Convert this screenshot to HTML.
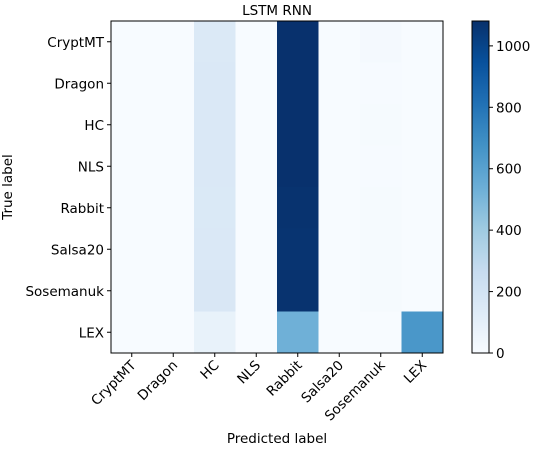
<!DOCTYPE html>
<html><head><meta charset="utf-8"><style>body{margin:0;background:#fff}svg text{font-family:"DejaVu Sans","Liberation Sans",sans-serif;font-size:13.5px;fill:#000}</style></head>
<body>
<svg id="c" width="533" height="446" xmlns="http://www.w3.org/2000/svg"></svg>
<script>
const labels=["CryptMT","Dragon","HC","NLS","Rabbit","Salsa20","Sosemanuk","LEX"];
const row0=[0,0,150,0,1075,0,15,0];
const row1=[0,0,160,0,1075,0,5,0];
const row2=[0,0,160,0,1075,0,10,0];
const row3=[0,0,160,0,1075,0,5,0];
const row4=[0,0,155,0,1070,0,10,0];
const row5=[0,0,160,0,1065,0,10,0];
const row6=[0,0,165,0,1070,0,10,0];
const row7=[0,0,80,0,530,0,0,650];
const cbTicks=[0,200,400,600,800,1000];
const vmax=1081;
const rows=[row0,row1,row2,row3,row4,row5,row6,row7];
const NS="http://www.w3.org/2000/svg",svg=document.getElementById('c');
function mk(t,a,p){const e=document.createElementNS(NS,t);for(const k in a)e.setAttribute(k,a[k]);(p||svg).appendChild(e);return e;}
const stops=["#f7fbff","#deebf7","#c6dbef","#9ecae1","#6baed6","#4292c6","#2171b5","#08519c","#08306b"].map(h=>[1,3,5].map(i=>parseInt(h.substr(i,2),16)));
function blues(v){let t=Math.max(0,Math.min(1,v/vmax))*8;let i=Math.min(7,Math.floor(t)),f=t-i;const c=stops[i].map((a,k)=>Math.round(a+(stops[i+1][k]-a)*f));return `rgb(${c})`;}
const X0=111,Y0=21,W=332,H=332,n=labels.length,cw=W/n,ch=H/n;
const xs=j=>X0+j*cw, ys=i=>Y0+i*ch;
mk('text',{x:X0+W/2,y:15,'text-anchor':'middle','font-size':'16',}).textContent="LSTM RNN";
rows.forEach((r,i)=>r.forEach((v,j)=>{const e=mk('rect',{x:xs(j),y:ys(i),width:cw+0.5,height:ch+0.5,fill:blues(v)});

}));
mk('rect',{x:X0,y:Y0,width:W,height:H,fill:'none',stroke:'#000','stroke-width':1,});
labels.forEach((l,i)=>{const y=ys(i)+ch/2;mk('line',{x1:X0-4,x2:X0,y1:y,y2:y,stroke:'#000'});
const t=mk('text',{x:X0-7,y:y+5,'text-anchor':'end'});t.textContent=l;


const x=xs(i)+cw/2;mk('line',{x1:x,x2:x,y1:Y0+H,y2:Y0+H+4,stroke:'#000'});
const u=mk('text',{x:x+5,y:Y0+H+13,'text-anchor':'end',transform:`rotate(-45 ${x+5} ${Y0+H+13})`});u.textContent=l;

});
mk('text',{x:X0+W/2,y:443,'text-anchor':'middle',}).textContent="Predicted label";
mk('text',{x:12,y:Y0+H/2,'text-anchor':'middle',transform:`rotate(-90 12 ${Y0+H/2})`,}).textContent="True label";
const CX=472,CW=17;
const g=mk('linearGradient',{id:'gr',x1:0,y1:1,x2:0,y2:0},mk('defs',{}));
for(let k=0;k<=16;k++)mk('stop',{offset:k/16,'stop-color':blues(vmax*k/16)},g);
mk('rect',{x:CX,y:Y0,width:CW,height:H,fill:'url(#gr)',stroke:'#000',});
cbTicks.forEach(v=>{const y=Y0+H-v/vmax*H;mk('line',{x1:CX+CW,x2:CX+CW+4,y1:y,y2:y,stroke:'#000'});
const t=mk('text',{x:CX+CW+7,y:y+5});t.textContent=v;

});
</script>
</body></html>
